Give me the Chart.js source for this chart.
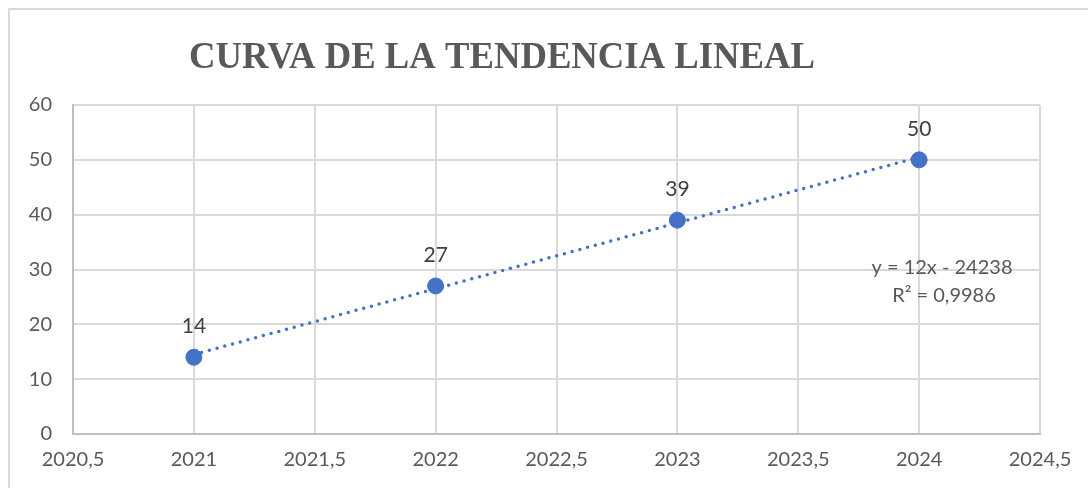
<!DOCTYPE html>
<html>
<head>
<meta charset="utf-8">
<script src="https://cdn.jsdelivr.net/npm/chart.js@4"></script>
<style>
  html, body { margin: 0; padding: 0; background: #fff; }
  #wrap { position: relative; width: 1088px; height: 488px; }
</style>
</head>
<body>
<div id="wrap"><canvas id="c" width="1088" height="488"></canvas></div>
<script>
const years = [2021, 2022, 2023, 2024];
const values = [14, 27, 39, 50];
// trendline ends, y = 12x - 24238 (Excel shows the rounded intercept)
const trendX = [2021, 2024];
const trendY = [14.5, 50.5];
const xTicks = [2020.5, 2021, 2021.5, 2022, 2022.5, 2023, 2023.5, 2024, 2024.5];
const yTicks = [0, 10, 20, 30, 40, 50, 60];
const title = 'CURVA DE LA TENDENCIA LINEAL';
const eqLines = ['y = 12x - 24238', 'R² = 0,9986'];

const blue = '#4472C4';
const grey = '#595959';

const decor = {
  id: 'decor',
  beforeDraw(chart) {
    const c = chart.ctx;
    c.save();
    c.strokeStyle = '#d9d9d9';
    c.lineWidth = 2;
    c.beginPath();
    c.moveTo(9, 488);
    c.lineTo(9, 9);
    c.lineTo(1088, 9);
    c.stroke();
    c.restore();
  },
  afterDatasetsDraw(chart) {
    const c = chart.ctx;
    const xs = chart.scales.x, ys = chart.scales.y;
    c.save();
    // title
    c.fillStyle = grey;
    c.font = 'bold 37px "Liberation Serif", "Times New Roman", serif';
    c.textAlign = 'center';
    c.textBaseline = 'alphabetic';
    c.fillText(title, 502, 68, 626);
    // data labels
    c.fillStyle = '#404040';
    c.font = '21px Lato, "Noto Sans", sans-serif';
    c.textBaseline = 'middle';
    years.forEach((yr, i) => {
      c.fillText(String(values[i]), xs.getPixelForValue(yr), ys.getPixelForValue(values[i]) - 31);
    });
    // trendline label
    c.fillStyle = grey;
    c.font = '20px Lato, "Noto Sans", sans-serif';
    c.fillText(eqLines[0], 942, 268);
    c.fillText(eqLines[1], 944, 296);
    c.restore();
  }
};

new Chart(document.getElementById('c'), {
  type: 'scatter',
  data: {
    datasets: [
      {
        label: 'datos',
        data: years.map((x, i) => ({ x: x, y: values[i] })),
        backgroundColor: blue,
        borderColor: blue,
        pointRadius: 8,
        pointHoverRadius: 8,
        order: 1
      },
      {
        label: 'tendencia',
        type: 'line',
        data: trendX.map((x, i) => ({ x: x, y: trendY[i] })),
        borderColor: blue,
        borderWidth: 3.5,
        borderDash: [0, 8],
        borderCapStyle: 'round',
        pointRadius: 0,
        fill: false,
        order: 2
      }
    ]
  },
  options: {
    responsive: false,
    animation: false,
    events: [],
    layout: { padding: { top: 105, right: 48, bottom: 8, left: 10 } },
    plugins: {
      legend: { display: false },
      tooltip: { enabled: false },
      title: { display: false }
    },
    scales: {
      x: {
        type: 'linear',
        min: 2020.5,
        max: 2024.5,
        afterBuildTicks: s => { s.ticks = xTicks.map(v => ({ value: v })); },
        afterFit: s => { s.height = 46; },
        grid: { color: '#d9d9d9', lineWidth: 2, drawTicks: false },
        border: { color: '#bfbfbf', width: 2 },
        ticks: {
          padding: 14,
          color: grey,
          font: { family: 'Lato, "Noto Sans", sans-serif', size: 20 },
          callback: v => String(v).replace('.', ',')
        }
      },
      y: {
        min: 0,
        max: 60,
        afterBuildTicks: s => { s.ticks = yTicks.map(v => ({ value: v })); },
        afterFit: s => { s.width = 63; },
        grid: { color: '#d9d9d9', lineWidth: 2, drawTicks: false },
        border: { color: '#bfbfbf', width: 2 },
        ticks: {
          padding: 21,
          color: grey,
          font: { family: 'Lato, "Noto Sans", sans-serif', size: 20 }
        }
      }
    }
  },
  plugins: [decor]
});
</script>
</body>
</html>
